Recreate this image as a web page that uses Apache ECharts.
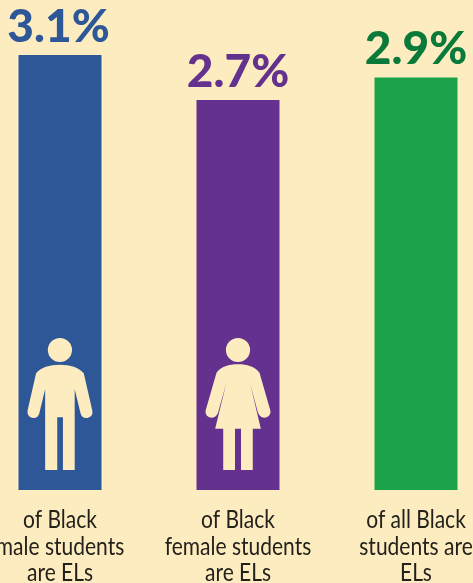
<!DOCTYPE html>
<html>
<head>
<meta charset="utf-8">
<style>
  html, body { margin: 0; padding: 0; background: #fdecc0; overflow: hidden; }
  #chart { width: 473px; height: 583px; }
</style>
<script src="https://cdn.jsdelivr.net/npm/echarts@6/dist/echarts.min.js"></script>
</head>
<body>
<div id="chart"></div>
<script>
// chart data
const categories = ['of Black\nmale students\nare ELs', 'of Black\nfemale students\nare ELs', 'of all Black\nstudents are\nELs'];
const values = [3.1, 2.7, 2.9];
const barColors = ['#2e5798', '#65318e', '#1aa34a'];
const labelColors = ['#2e5798', '#65318e', '#0a7a3a'];
// bars in the source do not start at zero, this is where they start
const axisMin = -0.77;
const axisMax = 3.1;

// pictograms, traced from the source
const headPath = (cx) => `M${cx - 36},60a36,36 0 1,0 72,0a36,36 0 1,0 -72,0Z`;
const maleIcon = headPath(179) + 'M179,104C210,104 235,112 250,130L275,240C280,258 265,264 258,264C248,264 242,258 240,248L223,178L223,420L188,420L188,262L171,262L171,420L135,420L135,178L118,248C116,258 110,264 100,264C90,264 80,256 83,240L108,130C122,112 148,104 179,104Z';
const femaleIcon = headPath(712) + 'M712,103C740,103 762,110 776,128L808,240C812,255 800,263 790,263C780,263 774,256 771,247L748,160L780,296L756,296L756,420L721,420L721,296L703,296L703,420L668,420L668,296L644,296L677,160L653,247C650,256 644,263 634,263C624,263 612,255 616,240L648,128C662,110 684,103 712,103Z';
const icons = [maleIcon, femaleIcon, null];

const chart = echarts.init(document.getElementById('chart'), null, { renderer: 'canvas' });

function renderBar(params, api) {
  const i = api.value(0);
  const top = api.coord([i, api.value(1)]);
  const bottom = api.coord([i, axisMin]);
  const barWidth = 83;
  const children = [
    {
      type: 'rect',
      shape: { x: top[0] - barWidth / 2, y: top[1], width: barWidth, height: bottom[1] - top[1] },
      style: { fill: barColors[i] }
    },
    {
      type: 'text',
      style: {
        x: top[0] - (i === 0 ? 1.5 : 0),
        y: top[1] - 5,
        text: api.value(1).toFixed(1) + '%',
        fill: labelColors[i],
        font: '900 46px Lato',
        align: 'center',
        verticalAlign: 'bottom'
      }
    },
    {
      // the source font is condensed and none is installed, so squeeze the text
      type: 'text',
      x: top[0],
      y: bottom[1] + 17,
      scaleX: 0.84,
      style: {
        x: 0,
        y: 0,
        text: categories[i],
        fill: '#23211b',
        font: '25px Lato',
        lineHeight: 26.5,
        align: 'center',
        verticalAlign: 'top'
      }
    }
  ];
  if (icons[i]) {
    children.push({
      type: 'path',
      shape: {
        pathData: icons[i],
        layout: 'cover',
        x: top[0] - 32.5,
        y: bottom[1] - 152,
        width: 65,
        height: 132
      },
      style: { fill: '#fdecc0' }
    });
  }
  return { type: 'group', children };
}

chart.setOption({
  backgroundColor: '#fdecc0',
  animation: false,
  grid: { left: -29, width: 534, top: 55, height: 435, outerBoundsMode: 'none' },
  xAxis: {
    type: 'category',
    data: categories,
    axisLine: { show: false, onZero: false },
    axisTick: { show: false },
    axisLabel: { show: false }
  },
  yAxis: {
    type: 'value',
    min: axisMin,
    max: axisMax,
    show: false,
    splitLine: { show: false }
  },
  series: [{
    type: 'custom',
    clip: false,
    renderItem: renderBar,
    data: values.map((v, i) => [i, v]),
    encode: { x: 0, y: 1 }
  }]
});
</script>
</body>
</html>
